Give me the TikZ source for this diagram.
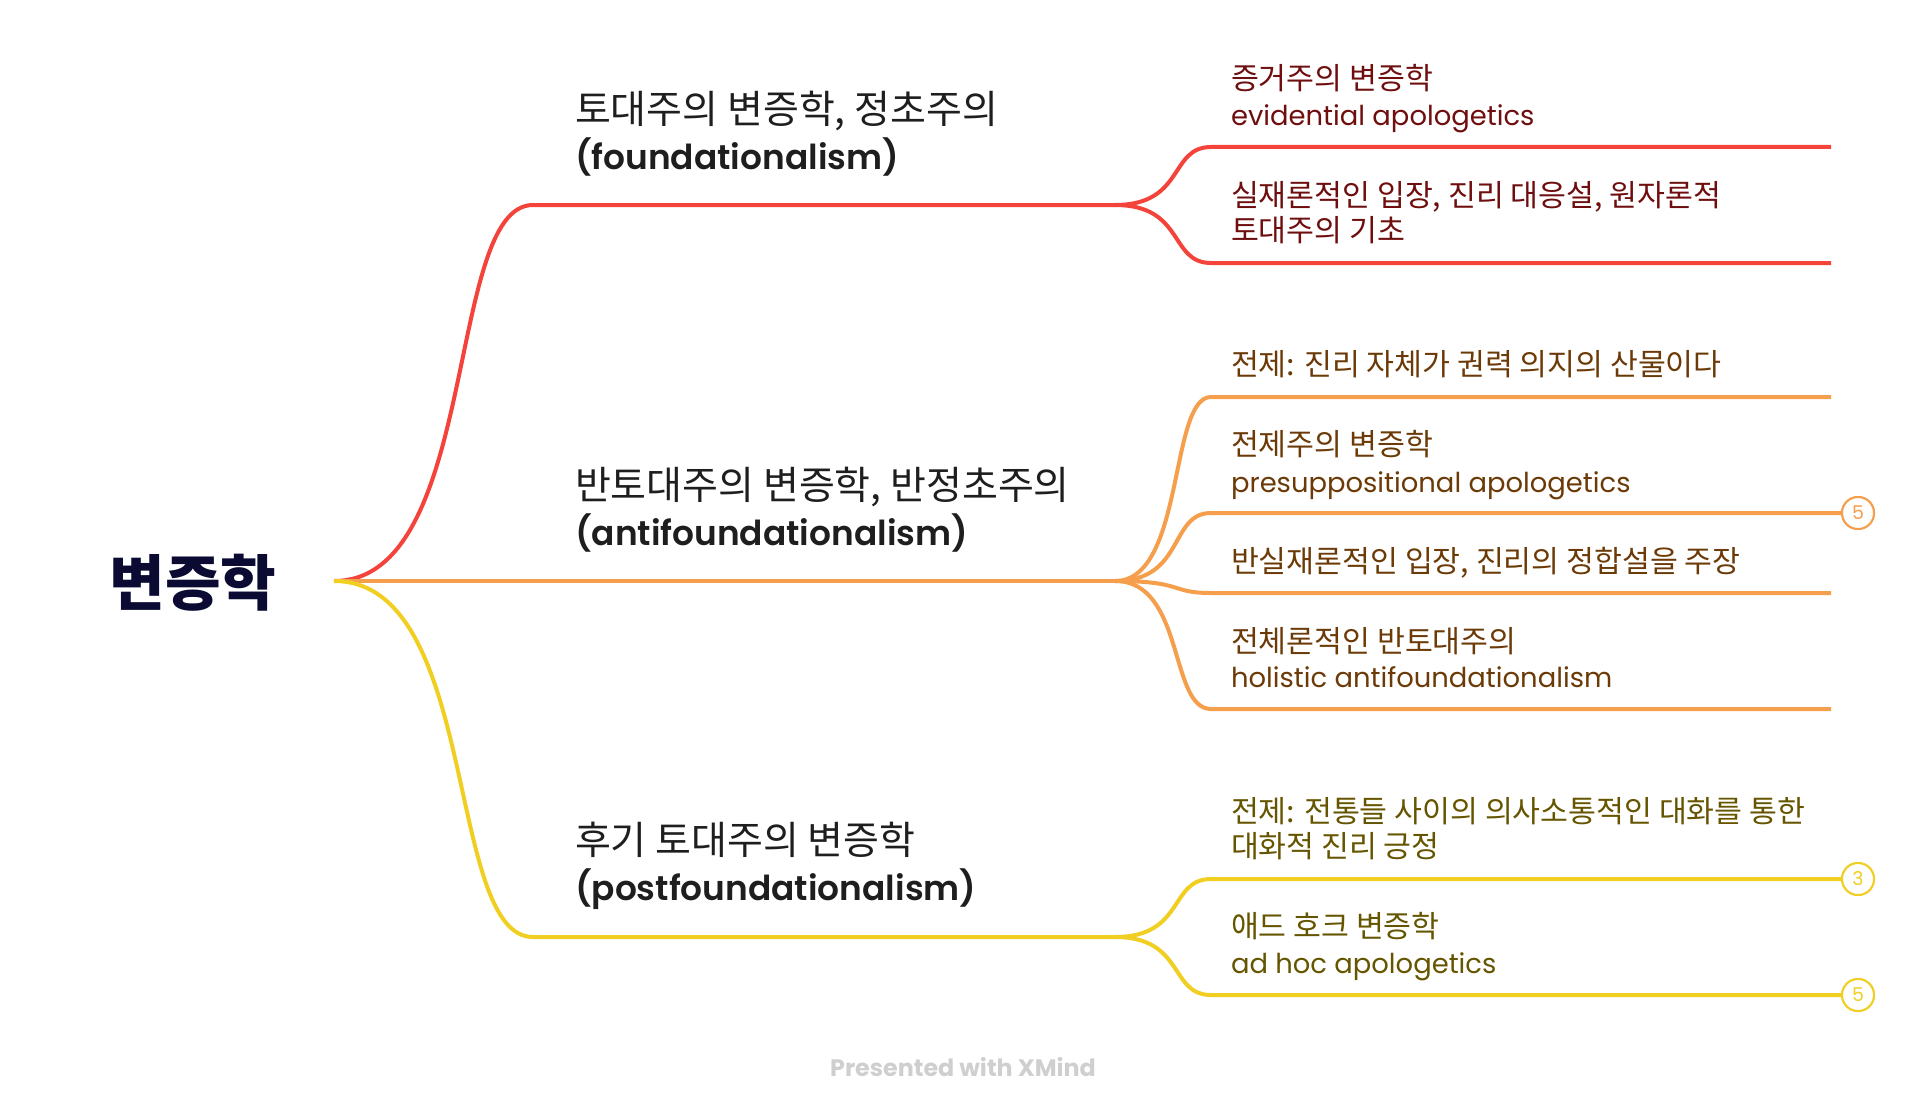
\documentclass[tikz,border=0pt]{standalone}
\usepackage{fontspec}
\newfontfamily\kr{Noto Sans CJK KR}
\newfontfamily\lat{Poppins}
\IfFontExistsTF{Poppins SemiBold}{\newfontfamily\latsb{Poppins SemiBold}}{\newcommand\latsb{\lat\bfseries}}
\definecolor{cRed}{HTML}{F4433B}
\definecolor{cOrange}{HTML}{F59E4C}
\definecolor{cYellow}{HTML}{F1CF22}
\definecolor{tRed}{HTML}{6E0E0E}
\definecolor{tOrange}{HTML}{6B3A07}
\definecolor{tYellow}{HTML}{665500}
\definecolor{tBranch}{HTML}{1E1E1E}
\definecolor{tRoot}{HTML}{0A0A32}
\definecolor{tFoot}{HTML}{CFCFCF}
\tikzset{
  txt/.style={inner sep=0pt, outer sep=0pt, anchor=base west},
  krleaf/.style={txt, font=\kr\fontsize{30.3}{30.3}\selectfont},
  latleaf/.style={txt, font=\lat\fontsize{27.4}{27.4}\selectfont},
  krbranch/.style={txt, text=tBranch, font=\kr\fontsize{39}{39}\selectfont},
  latbranch/.style={txt, text=tBranch, font=\latsb\fontsize{34.4}{34.4}\selectfont},
  conn/.style={line width=4pt},
  badge/.style={circle, fill=white, line width=2pt, minimum size=32pt, inner sep=0pt, font=\lat\fontsize{19}{19}\selectfont}
}
\begin{document}
\begin{tikzpicture}[x=1pt, y=-1pt]
\useasboundingbox (0,0) rectangle (1926,1118);

% root
\node[inner sep=0pt, anchor=base, text=tRoot, font=\kr\bfseries\fontsize{60.5}{60.5}\selectfont] (root) at (193,605) {변증학};
\coordinate (rootpt) at (334,581);

% branch points
\coordinate (b1s) at (533,205);  \coordinate (b1e) at (1115,205);
\coordinate (b2e) at (1115,581);
\coordinate (b3s) at (533,937);  \coordinate (b3e) at (1115,937);

% leaf line starts / ends
\coordinate (l1s) at (1211,147);  \coordinate (l1e) at (1831,147);
\coordinate (l2s) at (1211,263);  \coordinate (l2e) at (1831,263);
\coordinate (l3s) at (1211,397);  \coordinate (l3e) at (1831,397);
\coordinate (l4s) at (1211,513);
\coordinate (l5s) at (1211,593);  \coordinate (l5e) at (1831,593);
\coordinate (l6s) at (1211,709);  \coordinate (l6e) at (1831,709);
\coordinate (l7s) at (1211,879);
\coordinate (l8s) at (1211,995);

% badges (positions)
\node[badge, draw=cOrange, text=cOrange] (c4) at (1858,513) {5};
\node[badge, draw=cYellow, text=cYellow] (c7) at (1858,879) {3};
\node[badge, draw=cYellow, text=cYellow] (c8) at (1858,995) {5};

% connectors: root to branches
\draw[conn, cRed] (rootpt) .. controls +(146,0) and +(-88,0) .. (b1s) -- (b1e);
\draw[conn, cOrange] (rootpt) -- (b2e);
\draw[conn, cYellow] (rootpt) .. controls +(146,0) and +(-88,0) .. (b3s) -- (b3e);

% branch 1 leaves
\draw[conn, cRed] (b1e) .. controls +(70,0) and +(-42,0) .. (l1s) -- (l1e);
\draw[conn, cRed] (b1e) .. controls +(70,0) and +(-42,0) .. (l2s) -- (l2e);
% branch 2 leaves
\draw[conn, cOrange] (b2e) .. controls +(70,0) and +(-42,0) .. (l3s) -- (l3e);
\draw[conn, cOrange] (b2e) .. controls +(70,0) and +(-42,0) .. (l4s) -- (c4.west);
\draw[conn, cOrange] (b2e) .. controls +(70,0) and +(-42,0) .. (l5s) -- (l5e);
\draw[conn, cOrange] (b2e) .. controls +(70,0) and +(-42,0) .. (l6s) -- (l6e);
% branch 3 leaves
\draw[conn, cYellow] (b3e) .. controls +(70,0) and +(-42,0) .. (l7s) -- (c7.west);
\draw[conn, cYellow] (b3e) .. controls +(70,0) and +(-42,0) .. (l8s) -- (c8.west);

% badges on top of the lines
\node[badge, draw=cOrange, text=cOrange] at (c4) {5};
\node[badge, draw=cYellow, text=cYellow] at (c7) {3};
\node[badge, draw=cYellow, text=cYellow] at (c8) {5};

% branch texts
\node[krbranch] (t1a) at (575,124) {토대주의 변증학, 정초주의};
\node[latbranch] (t1b) at (575,170) {(foundationalism)};
\node[krbranch] (t2a) at (575,499) {반토대주의 변증학, 반정초주의};
\node[latbranch] (t2b) at (575,545) {(antifoundationalism)};
\node[krbranch] (t3a) at (575,854) {후기 토대주의 변증학};
\node[latbranch] (t3b) at (575,900) {(postfoundationalism)};

% leaf texts
\node[krleaf, text=tRed] (a1) at (1231,90) {증거주의 변증학};
\node[latleaf, text=tRed] (a2) at (1231,126) {evidential apologetics};
\node[krleaf, text=tRed] (a3) at (1231,206) {실재론적인 입장, 진리 대응설, 원자론적};
\node[krleaf, text=tRed] (a4) at (1231,241) {토대주의 기초};

\node[krleaf, text=tOrange] (o1) at (1231,375) {전제: 진리 자체가 권력 의지의 산물이다};
\node[krleaf, text=tOrange] (o2) at (1231,455) {전제주의 변증학};
\node[latleaf, text=tOrange] (o3) at (1231,492) {presuppositional apologetics};
\node[krleaf, text=tOrange] (o4) at (1231,572) {반실재론적인 입장, 진리의 정합설을 주장};
\node[krleaf, text=tOrange] (o5) at (1231,652) {전체론적인 반토대주의};
\node[latleaf, text=tOrange] (o6) at (1231,687) {holistic antifoundationalism};

\node[krleaf, text=tYellow] (y1) at (1231,822) {전제: 전통들 사이의 의사소통적인 대화를 통한};
\node[krleaf, text=tYellow] (y2) at (1231,857) {대화적 진리 긍정};
\node[krleaf, text=tYellow] (y3) at (1231,937) {애드 호크 변증학};
\node[latleaf, text=tYellow] (y4) at (1231,973) {ad hoc apologetics};

% footer
\node[inner sep=0pt, anchor=base, text=tFoot, font=\lat\bfseries\fontsize{23.8}{23.8}\selectfont] (foot) at (963,1076) {Presented with XMind};
\end{tikzpicture}
\end{document}
